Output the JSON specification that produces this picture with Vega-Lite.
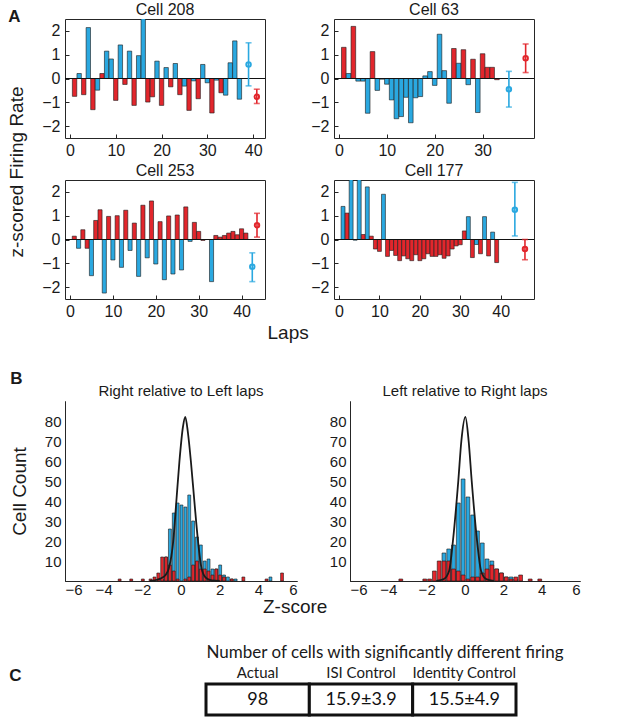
{
  "$schema": "https://vega.github.io/schema/vega-lite/v6.json",
  "background": "white",
  "padding": {"left": 8, "top": 1, "right": 4, "bottom": 4},
  "config": {
    "font": "Liberation Sans, Arial, sans-serif",
    "view": {"stroke": "#262626", "strokeWidth": 1},
    "axis": {"grid": false, "labelColor": "#1a1a1a", "tickColor": "#262626", "domainColor": "#262626", "labelFontSize": 16, "titleFontWeight": "normal", "titleColor": "#1a1a1a", "labelFont": "Liberation Sans, Arial, sans-serif", "titleFont": "Liberation Sans, Arial, sans-serif", "labelOverlap": false},
    "title": {"fontWeight": "normal", "color": "#1a1a1a", "font": "Liberation Sans, Arial, sans-serif"}
  },
  "datasets": {
    "laps": [
      {"cell":"Cell 208","lap":1,"type":"Right","z":-0.75},{"cell":"Cell 208","lap":2,"type":"Left","z":0.21},{"cell":"Cell 208","lap":3,"type":"Right","z":-0.68},{"cell":"Cell 208","lap":4,"type":"Left","z":2.14},{"cell":"Cell 208","lap":5,"type":"Right","z":-1.31},{"cell":"Cell 208","lap":6,"type":"Left","z":-0.49},{"cell":"Cell 208","lap":7,"type":"Right","z":0.21},{"cell":"Cell 208","lap":8,"type":"Left","z":1.15},{"cell":"Cell 208","lap":9,"type":"Left","z":0.82},{"cell":"Cell 208","lap":10,"type":"Right","z":-0.92},{"cell":"Cell 208","lap":11,"type":"Left","z":1.41},{"cell":"Cell 208","lap":12,"type":"Right","z":-0.25},{"cell":"Cell 208","lap":13,"type":"Left","z":1.15},{"cell":"Cell 208","lap":14,"type":"Right","z":-1.13},{"cell":"Cell 208","lap":15,"type":"Left","z":0.96},{"cell":"Cell 208","lap":16,"type":"Left","z":2.6},{"cell":"Cell 208","lap":17,"type":"Right","z":-0.99},{"cell":"Cell 208","lap":18,"type":"Right","z":-0.77},{"cell":"Cell 208","lap":19,"type":"Left","z":0.73},{"cell":"Cell 208","lap":20,"type":"Right","z":-1.13},{"cell":"Cell 208","lap":21,"type":"Left","z":0.46},{"cell":"Cell 208","lap":22,"type":"Right","z":-0.35},{"cell":"Cell 208","lap":23,"type":"Left","z":0.63},{"cell":"Cell 208","lap":24,"type":"Right","z":-0.68},{"cell":"Cell 208","lap":25,"type":"Left","z":-0.32},{"cell":"Cell 208","lap":26,"type":"Right","z":-1.34},{"cell":"Cell 208","lap":27,"type":"Left","z":-0.1},{"cell":"Cell 208","lap":28,"type":"Right","z":-0.85},{"cell":"Cell 208","lap":29,"type":"Left","z":0.59},{"cell":"Cell 208","lap":30,"type":"Left","z":-0.18},{"cell":"Cell 208","lap":31,"type":"Right","z":-1.45},{"cell":"Cell 208","lap":32,"type":"Left","z":-0.07},{"cell":"Cell 208","lap":33,"type":"Right","z":-0.6},{"cell":"Cell 208","lap":34,"type":"Left","z":-0.7},{"cell":"Cell 208","lap":35,"type":"Left","z":0.66},{"cell":"Cell 208","lap":36,"type":"Left","z":1.58},{"cell":"Cell 208","lap":37,"type":"Left","z":-0.87},
      {"cell":"Cell 63","lap":1,"type":"Right","z":1.31},{"cell":"Cell 63","lap":2,"type":"Left","z":0.21},{"cell":"Cell 63","lap":3,"type":"Right","z":2.19},{"cell":"Cell 63","lap":4,"type":"Left","z":-0.11},{"cell":"Cell 63","lap":5,"type":"Left","z":-0.11},{"cell":"Cell 63","lap":6,"type":"Left","z":-1.46},{"cell":"Cell 63","lap":7,"type":"Right","z":1.13},{"cell":"Cell 63","lap":8,"type":"Left","z":-0.5},{"cell":"Cell 63","lap":9,"type":"Left","z":-0.03},{"cell":"Cell 63","lap":10,"type":"Left","z":-0.24},{"cell":"Cell 63","lap":11,"type":"Left","z":-0.9},{"cell":"Cell 63","lap":12,"type":"Left","z":-1.69},{"cell":"Cell 63","lap":13,"type":"Left","z":-1.6},{"cell":"Cell 63","lap":14,"type":"Left","z":-0.79},{"cell":"Cell 63","lap":15,"type":"Left","z":-1.86},{"cell":"Cell 63","lap":16,"type":"Left","z":-0.81},{"cell":"Cell 63","lap":17,"type":"Left","z":-0.76},{"cell":"Cell 63","lap":18,"type":"Left","z":0.11},{"cell":"Cell 63","lap":19,"type":"Left","z":0.29},{"cell":"Cell 63","lap":20,"type":"Left","z":-0.29},{"cell":"Cell 63","lap":21,"type":"Left","z":1.86},{"cell":"Cell 63","lap":22,"type":"Left","z":0.33},{"cell":"Cell 63","lap":23,"type":"Left","z":-1.04},{"cell":"Cell 63","lap":24,"type":"Right","z":1.26},{"cell":"Cell 63","lap":25,"type":"Left","z":0.64},{"cell":"Cell 63","lap":26,"type":"Right","z":1.21},{"cell":"Cell 63","lap":27,"type":"Left","z":-0.26},{"cell":"Cell 63","lap":28,"type":"Right","z":0.81},{"cell":"Cell 63","lap":29,"type":"Left","z":-1.43},{"cell":"Cell 63","lap":30,"type":"Right","z":1.04},{"cell":"Cell 63","lap":31,"type":"Right","z":0.47},{"cell":"Cell 63","lap":32,"type":"Right","z":0.47},{"cell":"Cell 63","lap":33,"type":"Right","z":-0.05},
      {"cell":"Cell 253","lap":1,"type":"Right","z":0.14},{"cell":"Cell 253","lap":2,"type":"Left","z":-0.37},{"cell":"Cell 253","lap":3,"type":"Right","z":0.41},{"cell":"Cell 253","lap":4,"type":"Right","z":-0.37},{"cell":"Cell 253","lap":5,"type":"Left","z":-1.52},{"cell":"Cell 253","lap":6,"type":"Right","z":0.8},{"cell":"Cell 253","lap":7,"type":"Right","z":1.25},{"cell":"Cell 253","lap":8,"type":"Left","z":-2.25},{"cell":"Cell 253","lap":9,"type":"Right","z":0.97},{"cell":"Cell 253","lap":10,"type":"Left","z":-0.86},{"cell":"Cell 253","lap":11,"type":"Right","z":1.0},{"cell":"Cell 253","lap":12,"type":"Left","z":-1.17},{"cell":"Cell 253","lap":13,"type":"Right","z":1.23},{"cell":"Cell 253","lap":14,"type":"Left","z":-0.46},{"cell":"Cell 253","lap":15,"type":"Right","z":0.69},{"cell":"Cell 253","lap":16,"type":"Left","z":-1.55},{"cell":"Cell 253","lap":17,"type":"Right","z":1.44},{"cell":"Cell 253","lap":18,"type":"Left","z":-0.77},{"cell":"Cell 253","lap":19,"type":"Right","z":1.62},{"cell":"Cell 253","lap":20,"type":"Left","z":-1.03},{"cell":"Cell 253","lap":21,"type":"Right","z":0.75},{"cell":"Cell 253","lap":22,"type":"Left","z":-1.69},{"cell":"Cell 253","lap":23,"type":"Right","z":0.99},{"cell":"Cell 253","lap":24,"type":"Left","z":-1.45},{"cell":"Cell 253","lap":25,"type":"Right","z":1.03},{"cell":"Cell 253","lap":26,"type":"Left","z":-1.28},{"cell":"Cell 253","lap":27,"type":"Right","z":1.37},{"cell":"Cell 253","lap":28,"type":"Left","z":-0.08},{"cell":"Cell 253","lap":29,"type":"Right","z":0.72},{"cell":"Cell 253","lap":30,"type":"Right","z":0.34},{"cell":"Cell 253","lap":31,"type":"Right","z":-0.04},{"cell":"Cell 253","lap":33,"type":"Left","z":-1.77},{"cell":"Cell 253","lap":34,"type":"Right","z":0.17},{"cell":"Cell 253","lap":35,"type":"Right","z":0.1},{"cell":"Cell 253","lap":36,"type":"Right","z":0.17},{"cell":"Cell 253","lap":37,"type":"Right","z":0.27},{"cell":"Cell 253","lap":38,"type":"Right","z":0.34},{"cell":"Cell 253","lap":39,"type":"Right","z":0.2},{"cell":"Cell 253","lap":40,"type":"Right","z":0.45},{"cell":"Cell 253","lap":41,"type":"Right","z":0.27},
      {"cell":"Cell 177","lap":1,"type":"Left","z":1.39},{"cell":"Cell 177","lap":2,"type":"Right","z":1.11},{"cell":"Cell 177","lap":3,"type":"Left","z":2.6},{"cell":"Cell 177","lap":4,"type":"Left","z":-0.03},{"cell":"Cell 177","lap":5,"type":"Left","z":2.6},{"cell":"Cell 177","lap":6,"type":"Right","z":0.21},{"cell":"Cell 177","lap":7,"type":"Left","z":2.21},{"cell":"Cell 177","lap":8,"type":"Right","z":0.14},{"cell":"Cell 177","lap":9,"type":"Right","z":-0.4},{"cell":"Cell 177","lap":10,"type":"Right","z":-0.5},{"cell":"Cell 177","lap":11,"type":"Left","z":1.9},{"cell":"Cell 177","lap":12,"type":"Right","z":-0.71},{"cell":"Cell 177","lap":13,"type":"Right","z":-0.46},{"cell":"Cell 177","lap":14,"type":"Right","z":-0.67},{"cell":"Cell 177","lap":15,"type":"Right","z":-0.89},{"cell":"Cell 177","lap":16,"type":"Right","z":-0.69},{"cell":"Cell 177","lap":17,"type":"Right","z":-0.81},{"cell":"Cell 177","lap":18,"type":"Right","z":-0.89},{"cell":"Cell 177","lap":19,"type":"Right","z":-0.64},{"cell":"Cell 177","lap":20,"type":"Right","z":-0.89},{"cell":"Cell 177","lap":21,"type":"Right","z":-0.81},{"cell":"Cell 177","lap":22,"type":"Right","z":-0.6},{"cell":"Cell 177","lap":23,"type":"Right","z":-0.71},{"cell":"Cell 177","lap":24,"type":"Right","z":-0.71},{"cell":"Cell 177","lap":25,"type":"Right","z":-0.64},{"cell":"Cell 177","lap":26,"type":"Right","z":-0.79},{"cell":"Cell 177","lap":27,"type":"Right","z":-0.69},{"cell":"Cell 177","lap":28,"type":"Right","z":-0.4},{"cell":"Cell 177","lap":29,"type":"Right","z":-0.27},{"cell":"Cell 177","lap":30,"type":"Right","z":-0.22},{"cell":"Cell 177","lap":31,"type":"Right","z":0.36},{"cell":"Cell 177","lap":32,"type":"Left","z":0.96},{"cell":"Cell 177","lap":33,"type":"Right","z":-0.76},{"cell":"Cell 177","lap":34,"type":"Left","z":-0.21},{"cell":"Cell 177","lap":35,"type":"Right","z":-0.6},{"cell":"Cell 177","lap":36,"type":"Left","z":0.96},{"cell":"Cell 177","lap":37,"type":"Right","z":-0.69},{"cell":"Cell 177","lap":38,"type":"Left","z":0.31},{"cell":"Cell 177","lap":39,"type":"Right","z":-0.97}
    ],
    "err": [
      {"cell":"Cell 208","type":"Left","lap":39,"mean":0.59,"lo":-0.31,"hi":1.5},
      {"cell":"Cell 208","type":"Right","lap":40.8,"mean":-0.77,"lo":-1.05,"hi":-0.45},
      {"cell":"Cell 63","type":"Left","lap":35.5,"mean":-0.45,"lo":-1.2,"hi":0.3},
      {"cell":"Cell 63","type":"Right","lap":39,"mean":0.85,"lo":0.25,"hi":1.45},
      {"cell":"Cell 253","type":"Left","lap":42.5,"mean":-1.14,"lo":-1.77,"hi":-0.56},
      {"cell":"Cell 253","type":"Right","lap":43.6,"mean":0.6,"lo":0.1,"hi":1.1},
      {"cell":"Cell 177","type":"Left","lap":43.5,"mean":1.25,"lo":0.15,"hi":2.4},
      {"cell":"Cell 177","type":"Right","lap":46,"mean":-0.4,"lo":-0.85,"hi":0.0}
    ],
    "hist": [
      {"panel":"RL","type":"Left","z0":-1.1,"z1":-0.9,"count":1},{"panel":"RL","type":"Left","z0":-0.9,"z1":-0.7,"count":12},{"panel":"RL","type":"Left","z0":-0.7,"z1":-0.5,"count":26},{"panel":"RL","type":"Left","z0":-0.5,"z1":-0.3,"count":34},{"panel":"RL","type":"Left","z0":-0.3,"z1":-0.1,"count":39},{"panel":"RL","type":"Left","z0":-0.1,"z1":0.1,"count":38},{"panel":"RL","type":"Left","z0":0.1,"z1":0.3,"count":37},{"panel":"RL","type":"Left","z0":0.3,"z1":0.5,"count":43},{"panel":"RL","type":"Left","z0":0.5,"z1":0.7,"count":30},{"panel":"RL","type":"Left","z0":0.7,"z1":0.9,"count":22},{"panel":"RL","type":"Left","z0":0.9,"z1":1.1,"count":18},{"panel":"RL","type":"Left","z0":1.1,"z1":1.3,"count":10},{"panel":"RL","type":"Left","z0":1.3,"z1":1.5,"count":11},{"panel":"RL","type":"Left","z0":1.5,"z1":1.7,"count":6},{"panel":"RL","type":"Left","z0":1.7,"z1":1.9,"count":6},{"panel":"RL","type":"Left","z0":1.9,"z1":2.1,"count":8},{"panel":"RL","type":"Left","z0":2.1,"z1":2.3,"count":3},{"panel":"RL","type":"Left","z0":2.3,"z1":2.5,"count":2},{"panel":"RL","type":"Left","z0":2.5,"z1":2.7,"count":1},{"panel":"RL","type":"Left","z0":2.7,"z1":2.9,"count":1},{"panel":"RL","type":"Left","z0":4.5,"z1":4.7,"count":2},
      {"panel":"RL","type":"Right","z0":-3.3,"z1":-3.1,"count":1},{"panel":"RL","type":"Right","z0":-2.7,"z1":-2.5,"count":1},{"panel":"RL","type":"Right","z0":-2.1,"z1":-1.9,"count":1},{"panel":"RL","type":"Right","z0":-1.7,"z1":-1.5,"count":1},{"panel":"RL","type":"Right","z0":-1.5,"z1":-1.3,"count":2},{"panel":"RL","type":"Right","z0":-1.3,"z1":-1.1,"count":4},{"panel":"RL","type":"Right","z0":-1.1,"z1":-0.9,"count":12},{"panel":"RL","type":"Right","z0":-0.9,"z1":-0.7,"count":12},{"panel":"RL","type":"Right","z0":-0.7,"z1":-0.5,"count":8},{"panel":"RL","type":"Right","z0":-0.5,"z1":-0.3,"count":5},{"panel":"RL","type":"Right","z0":-0.3,"z1":-0.1,"count":1},{"panel":"RL","type":"Right","z0":0.1,"z1":0.3,"count":1},{"panel":"RL","type":"Right","z0":0.3,"z1":0.5,"count":2},{"panel":"RL","type":"Right","z0":0.5,"z1":0.7,"count":8},{"panel":"RL","type":"Right","z0":0.7,"z1":0.9,"count":10},{"panel":"RL","type":"Right","z0":0.9,"z1":1.1,"count":6},{"panel":"RL","type":"Right","z0":1.1,"z1":1.3,"count":6},{"panel":"RL","type":"Right","z0":1.3,"z1":1.5,"count":5},{"panel":"RL","type":"Right","z0":1.5,"z1":1.7,"count":3},{"panel":"RL","type":"Right","z0":1.7,"z1":1.9,"count":6},{"panel":"RL","type":"Right","z0":1.9,"z1":2.1,"count":3},{"panel":"RL","type":"Right","z0":2.1,"z1":2.3,"count":2},{"panel":"RL","type":"Right","z0":2.5,"z1":2.7,"count":1},{"panel":"RL","type":"Right","z0":3.1,"z1":3.3,"count":2},{"panel":"RL","type":"Right","z0":4.3,"z1":4.5,"count":1},{"panel":"RL","type":"Right","z0":5.1,"z1":5.3,"count":4},
      {"panel":"LR","type":"Left","z0":-1.25,"z1":-1.0,"count":14},{"panel":"LR","type":"Left","z0":-1.0,"z1":-0.75,"count":16},{"panel":"LR","type":"Left","z0":-0.75,"z1":-0.5,"count":18},{"panel":"LR","type":"Left","z0":-0.5,"z1":-0.25,"count":39},{"panel":"LR","type":"Left","z0":-0.25,"z1":0.0,"count":51},{"panel":"LR","type":"Left","z0":0.0,"z1":0.25,"count":42},{"panel":"LR","type":"Left","z0":0.25,"z1":0.5,"count":33},{"panel":"LR","type":"Left","z0":0.5,"z1":0.75,"count":25},{"panel":"LR","type":"Left","z0":0.75,"z1":1.0,"count":19},{"panel":"LR","type":"Left","z0":1.0,"z1":1.25,"count":11},{"panel":"LR","type":"Left","z0":1.25,"z1":1.5,"count":10},{"panel":"LR","type":"Left","z0":1.5,"z1":1.75,"count":6},{"panel":"LR","type":"Left","z0":1.75,"z1":2.0,"count":4},{"panel":"LR","type":"Left","z0":2.0,"z1":2.25,"count":2},{"panel":"LR","type":"Left","z0":2.25,"z1":2.5,"count":2},{"panel":"LR","type":"Left","z0":2.5,"z1":2.75,"count":1},
      {"panel":"LR","type":"Right","z0":-3.5,"z1":-3.25,"count":1},{"panel":"LR","type":"Right","z0":-2.25,"z1":-2.0,"count":1},{"panel":"LR","type":"Right","z0":-2.0,"z1":-1.75,"count":1},{"panel":"LR","type":"Right","z0":-1.75,"z1":-1.5,"count":5},{"panel":"LR","type":"Right","z0":-1.5,"z1":-1.25,"count":10},{"panel":"LR","type":"Right","z0":-1.25,"z1":-1.0,"count":10},{"panel":"LR","type":"Right","z0":-1.0,"z1":-0.75,"count":10},{"panel":"LR","type":"Right","z0":-0.75,"z1":-0.5,"count":6},{"panel":"LR","type":"Right","z0":-0.5,"z1":-0.25,"count":5},{"panel":"LR","type":"Right","z0":-0.25,"z1":0.0,"count":3},{"panel":"LR","type":"Right","z0":0.0,"z1":0.25,"count":1},{"panel":"LR","type":"Right","z0":0.25,"z1":0.5,"count":2},{"panel":"LR","type":"Right","z0":0.5,"z1":0.75,"count":2},{"panel":"LR","type":"Right","z0":0.75,"z1":1.0,"count":4},{"panel":"LR","type":"Right","z0":1.0,"z1":1.25,"count":6},{"panel":"LR","type":"Right","z0":1.25,"z1":1.5,"count":8},{"panel":"LR","type":"Right","z0":1.5,"z1":1.75,"count":6},{"panel":"LR","type":"Right","z0":1.75,"z1":2.0,"count":4},{"panel":"LR","type":"Right","z0":2.0,"z1":2.25,"count":2},{"panel":"LR","type":"Right","z0":2.25,"z1":2.5,"count":1},{"panel":"LR","type":"Right","z0":2.5,"z1":2.75,"count":2},{"panel":"LR","type":"Right","z0":2.75,"z1":3.0,"count":3},{"panel":"LR","type":"Right","z0":3.25,"z1":3.5,"count":1},{"panel":"LR","type":"Right","z0":3.75,"z1":4.0,"count":1}
    ],
    "curve": [
      {"panel":"RL","z":-1.6,"count":0},{"panel":"RL","z":-1.3,"count":0.5},{"panel":"RL","z":-1.0,"count":1.5},{"panel":"RL","z":-0.8,"count":3},{"panel":"RL","z":-0.64,"count":6},{"panel":"RL","z":-0.4,"count":20},{"panel":"RL","z":-0.24,"count":40},{"panel":"RL","z":-0.08,"count":60},{"panel":"RL","z":0.1,"count":77},{"panel":"RL","z":0.22,"count":82},{"panel":"RL","z":0.36,"count":74},{"panel":"RL","z":0.51,"count":60},{"panel":"RL","z":0.69,"count":40},{"panel":"RL","z":0.88,"count":20},{"panel":"RL","z":1.07,"count":6},{"panel":"RL","z":1.3,"count":1.5},{"panel":"RL","z":1.6,"count":0.3},{"panel":"RL","z":2.0,"count":0},
      {"panel":"LR","z":-1.5,"count":0},{"panel":"LR","z":-1.1,"count":1},{"panel":"LR","z":-0.83,"count":5},{"panel":"LR","z":-0.63,"count":20},{"panel":"LR","z":-0.35,"count":50},{"panel":"LR","z":-0.19,"count":70},{"panel":"LR","z":0.02,"count":82},{"panel":"LR","z":0.19,"count":70},{"panel":"LR","z":0.35,"count":50},{"panel":"LR","z":0.63,"count":20},{"panel":"LR","z":0.84,"count":5},{"panel":"LR","z":1.1,"count":1},{"panel":"LR","z":1.5,"count":0}
    ],
    "table": [
      {"row":"cells","column":"Actual","value":"98"},
      {"row":"cells","column":"ISI Control","value":"15.9±3.9"},
      {"row":"cells","column":"Identity Control","value":"15.5±4.9"}
    ]
  },
  "spacing": 27,
  "vconcat": [
    {
      "title": {"text": "A", "anchor": "start", "fontSize": 17, "fontWeight": "bold", "dy": 24, "offset": 0},
      "vconcat": [
        {
          "title": {"text": "z-scored Firing Rate", "orient": "left", "anchor": "middle", "fontSize": 19, "offset": 14},
          "vconcat": [
            {
              "title": {"text": "Laps", "orient": "bottom", "anchor": "middle", "fontSize": 19, "offset": 4},
              "spacing": 3,
              "vconcat": [
                {
                  "spacing": 44,
                  "hconcat": [
                    {
                      "width": 200, "height": 119,
                      "title": {"text": "Cell 208", "fontSize": 16, "offset": 1},
                      "resolve": {"axis": {"y": "independent"}},
                      "layer": [
                        {"data": {"name": "laps"}, "transform": [{"filter": "datum.cell == 'Cell 208'"}],
                         "mark": {"type": "bar", "width": 4.4, "stroke": "#1a1a1a", "strokeWidth": 0.6, "clip": true},
                         "encoding": {
                           "x": {"field": "lap", "type": "quantitative", "title": null, "scale": {"domain": [0, 41.5], "nice": false, "zero": false}, "axis": {"values": [0, 10, 20, 30, 40], "domain": false, "tickSize": 4, "offset": -4, "labelPadding": 4, "labelOverlap": false}},
                           "y": {"field": "z", "type": "quantitative", "title": null, "scale": {"domain": [-2.5, 2.5], "nice": false}, "axis": {"orient": "left", "values": [-2, 0, 2], "domain": false, "tickSize": 4, "offset": -4, "labelPadding": 5, "labelOverlap": false}},
                           "color": {"field": "type", "type": "nominal", "scale": {"domain": ["Left", "Right"], "range": ["#2AA8E0", "#E2262C"]}, "legend": null}
                         }},
                        {"data": {"values": [{}]}, "mark": {"type": "rule", "color": "#111", "strokeWidth": 1}, "encoding": {"y": {"datum": 0, "type": "quantitative", "title": null, "axis": {"orient": "left", "values": [-1, 1], "domain": false, "tickSize": 4, "offset": -4, "labelPadding": 5, "labelOverlap": false}}}},
                        {"data": {"name": "err"}, "transform": [{"filter": "datum.cell == 'Cell 208'"}],
                         "mark": {"type": "rule", "strokeWidth": 1.6},
                         "encoding": {"x": {"field": "lap", "type": "quantitative", "title": null}, "y": {"field": "lo", "type": "quantitative", "title": null, "axis": null}, "y2": {"field": "hi"}, "color": {"field": "type", "type": "nominal", "legend": null}}},
                        {"data": {"name": "err"}, "transform": [{"filter": "datum.cell == 'Cell 208'"}],
                         "mark": {"type": "tick", "orient": "horizontal", "size": 6, "thickness": 1.6},
                         "encoding": {"x": {"field": "lap", "type": "quantitative", "title": null}, "y": {"field": "lo", "type": "quantitative", "title": null, "axis": null}, "color": {"field": "type", "type": "nominal", "legend": null}}},
                        {"data": {"name": "err"}, "transform": [{"filter": "datum.cell == 'Cell 208'"}],
                         "mark": {"type": "tick", "orient": "horizontal", "size": 6, "thickness": 1.6},
                         "encoding": {"x": {"field": "lap", "type": "quantitative", "title": null}, "y": {"field": "hi", "type": "quantitative", "title": null, "axis": null}, "color": {"field": "type", "type": "nominal", "legend": null}}},
                        {"data": {"name": "err"}, "transform": [{"filter": "datum.cell == 'Cell 208'"}],
                         "mark": {"type": "point", "shape": "circle", "filled": false, "size": 20, "strokeWidth": 2, "opacity": 1},
                         "encoding": {"x": {"field": "lap", "type": "quantitative", "title": null}, "y": {"field": "mean", "type": "quantitative", "title": null, "axis": null}, "color": {"field": "type", "type": "nominal", "legend": null}}}
                      ]
                    },
                    {
                      "width": 200, "height": 119,
                      "title": {"text": "Cell 63", "fontSize": 16, "offset": 1},
                      "resolve": {"axis": {"y": "independent"}},
                      "layer": [
                        {"data": {"name": "laps"}, "transform": [{"filter": "datum.cell == 'Cell 63'"}],
                         "mark": {"type": "bar", "width": 4.6, "stroke": "#1a1a1a", "strokeWidth": 0.6, "clip": true},
                         "encoding": {
                           "x": {"field": "lap", "type": "quantitative", "title": null, "scale": {"domain": [0, 39.7], "nice": false, "zero": false}, "axis": {"values": [0, 10, 20, 30], "domain": false, "tickSize": 4, "offset": -4, "labelPadding": 4, "labelOverlap": false}},
                           "y": {"field": "z", "type": "quantitative", "title": null, "scale": {"domain": [-2.5, 2.5], "nice": false}, "axis": {"orient": "left", "values": [-2, 0, 2], "domain": false, "tickSize": 4, "offset": -4, "labelPadding": 5, "labelOverlap": false}},
                           "color": {"field": "type", "type": "nominal", "scale": {"domain": ["Left", "Right"], "range": ["#2AA8E0", "#E2262C"]}, "legend": null}
                         }},
                        {"data": {"values": [{}]}, "mark": {"type": "rule", "color": "#111", "strokeWidth": 1}, "encoding": {"y": {"datum": 0, "type": "quantitative", "title": null, "axis": {"orient": "left", "values": [-1, 1], "domain": false, "tickSize": 4, "offset": -4, "labelPadding": 5, "labelOverlap": false}}}},
                        {"data": {"name": "err"}, "transform": [{"filter": "datum.cell == 'Cell 63'"}],
                         "mark": {"type": "rule", "strokeWidth": 1.6},
                         "encoding": {"x": {"field": "lap", "type": "quantitative", "title": null}, "y": {"field": "lo", "type": "quantitative", "title": null, "axis": null}, "y2": {"field": "hi"}, "color": {"field": "type", "type": "nominal", "legend": null}}},
                        {"data": {"name": "err"}, "transform": [{"filter": "datum.cell == 'Cell 63'"}],
                         "mark": {"type": "tick", "orient": "horizontal", "size": 6, "thickness": 1.6},
                         "encoding": {"x": {"field": "lap", "type": "quantitative", "title": null}, "y": {"field": "lo", "type": "quantitative", "title": null, "axis": null}, "color": {"field": "type", "type": "nominal", "legend": null}}},
                        {"data": {"name": "err"}, "transform": [{"filter": "datum.cell == 'Cell 63'"}],
                         "mark": {"type": "tick", "orient": "horizontal", "size": 6, "thickness": 1.6},
                         "encoding": {"x": {"field": "lap", "type": "quantitative", "title": null}, "y": {"field": "hi", "type": "quantitative", "title": null, "axis": null}, "color": {"field": "type", "type": "nominal", "legend": null}}},
                        {"data": {"name": "err"}, "transform": [{"filter": "datum.cell == 'Cell 63'"}],
                         "mark": {"type": "point", "shape": "circle", "filled": false, "size": 20, "strokeWidth": 2, "opacity": 1},
                         "encoding": {"x": {"field": "lap", "type": "quantitative", "title": null}, "y": {"field": "mean", "type": "quantitative", "title": null, "axis": null}, "color": {"field": "type", "type": "nominal", "legend": null}}}
                      ]
                    }
                  ]
                },
                {
                  "spacing": 44,
                  "hconcat": [
                    {
                      "width": 200, "height": 119,
                      "title": {"text": "Cell 253", "fontSize": 16, "offset": 1},
                      "resolve": {"axis": {"y": "independent"}},
                      "layer": [
                        {"data": {"name": "laps"}, "transform": [{"filter": "datum.cell == 'Cell 253'"}],
                         "mark": {"type": "bar", "width": 4.1, "stroke": "#1a1a1a", "strokeWidth": 0.6, "clip": true},
                         "encoding": {
                           "x": {"field": "lap", "type": "quantitative", "title": null, "scale": {"domain": [0, 44.3], "nice": false, "zero": false}, "axis": {"values": [0, 10, 20, 30, 40], "domain": false, "tickSize": 4, "offset": -4, "labelPadding": 4, "labelOverlap": false}},
                           "y": {"field": "z", "type": "quantitative", "title": null, "scale": {"domain": [-2.5, 2.5], "nice": false}, "axis": {"orient": "left", "values": [-2, 0, 2], "domain": false, "tickSize": 4, "offset": -4, "labelPadding": 5, "labelOverlap": false}},
                           "color": {"field": "type", "type": "nominal", "scale": {"domain": ["Left", "Right"], "range": ["#2AA8E0", "#E2262C"]}, "legend": null}
                         }},
                        {"data": {"values": [{}]}, "mark": {"type": "rule", "color": "#111", "strokeWidth": 1}, "encoding": {"y": {"datum": 0, "type": "quantitative", "title": null, "axis": {"orient": "left", "values": [-1, 1], "domain": false, "tickSize": 4, "offset": -4, "labelPadding": 5, "labelOverlap": false}}}},
                        {"data": {"name": "err"}, "transform": [{"filter": "datum.cell == 'Cell 253'"}],
                         "mark": {"type": "rule", "strokeWidth": 1.6},
                         "encoding": {"x": {"field": "lap", "type": "quantitative", "title": null}, "y": {"field": "lo", "type": "quantitative", "title": null, "axis": null}, "y2": {"field": "hi"}, "color": {"field": "type", "type": "nominal", "legend": null}}},
                        {"data": {"name": "err"}, "transform": [{"filter": "datum.cell == 'Cell 253'"}],
                         "mark": {"type": "tick", "orient": "horizontal", "size": 6, "thickness": 1.6},
                         "encoding": {"x": {"field": "lap", "type": "quantitative", "title": null}, "y": {"field": "lo", "type": "quantitative", "title": null, "axis": null}, "color": {"field": "type", "type": "nominal", "legend": null}}},
                        {"data": {"name": "err"}, "transform": [{"filter": "datum.cell == 'Cell 253'"}],
                         "mark": {"type": "tick", "orient": "horizontal", "size": 6, "thickness": 1.6},
                         "encoding": {"x": {"field": "lap", "type": "quantitative", "title": null}, "y": {"field": "hi", "type": "quantitative", "title": null, "axis": null}, "color": {"field": "type", "type": "nominal", "legend": null}}},
                        {"data": {"name": "err"}, "transform": [{"filter": "datum.cell == 'Cell 253'"}],
                         "mark": {"type": "point", "shape": "circle", "filled": false, "size": 20, "strokeWidth": 2, "opacity": 1},
                         "encoding": {"x": {"field": "lap", "type": "quantitative", "title": null}, "y": {"field": "mean", "type": "quantitative", "title": null, "axis": null}, "color": {"field": "type", "type": "nominal", "legend": null}}}
                      ]
                    },
                    {
                      "width": 200, "height": 119,
                      "title": {"text": "Cell 177", "fontSize": 16, "offset": 1},
                      "resolve": {"axis": {"y": "independent"}},
                      "layer": [
                        {"data": {"name": "laps"}, "transform": [{"filter": "datum.cell == 'Cell 177'"}],
                         "mark": {"type": "bar", "width": 3.9, "stroke": "#1a1a1a", "strokeWidth": 0.6, "clip": true},
                         "encoding": {
                           "x": {"field": "lap", "type": "quantitative", "title": null, "scale": {"domain": [0, 47], "nice": false, "zero": false}, "axis": {"values": [0, 10, 20, 30, 40], "domain": false, "tickSize": 4, "offset": -4, "labelPadding": 4, "labelOverlap": false}},
                           "y": {"field": "z", "type": "quantitative", "title": null, "scale": {"domain": [-2.5, 2.5], "nice": false}, "axis": {"orient": "left", "values": [-2, 0, 2], "domain": false, "tickSize": 4, "offset": -4, "labelPadding": 5, "labelOverlap": false}},
                           "color": {"field": "type", "type": "nominal", "scale": {"domain": ["Left", "Right"], "range": ["#2AA8E0", "#E2262C"]}, "legend": null}
                         }},
                        {"data": {"values": [{}]}, "mark": {"type": "rule", "color": "#111", "strokeWidth": 1}, "encoding": {"y": {"datum": 0, "type": "quantitative", "title": null, "axis": {"orient": "left", "values": [-1, 1], "domain": false, "tickSize": 4, "offset": -4, "labelPadding": 5, "labelOverlap": false}}}},
                        {"data": {"name": "err"}, "transform": [{"filter": "datum.cell == 'Cell 177'"}],
                         "mark": {"type": "rule", "strokeWidth": 1.6},
                         "encoding": {"x": {"field": "lap", "type": "quantitative", "title": null}, "y": {"field": "lo", "type": "quantitative", "title": null, "axis": null}, "y2": {"field": "hi"}, "color": {"field": "type", "type": "nominal", "legend": null}}},
                        {"data": {"name": "err"}, "transform": [{"filter": "datum.cell == 'Cell 177'"}],
                         "mark": {"type": "tick", "orient": "horizontal", "size": 6, "thickness": 1.6},
                         "encoding": {"x": {"field": "lap", "type": "quantitative", "title": null}, "y": {"field": "lo", "type": "quantitative", "title": null, "axis": null}, "color": {"field": "type", "type": "nominal", "legend": null}}},
                        {"data": {"name": "err"}, "transform": [{"filter": "datum.cell == 'Cell 177'"}],
                         "mark": {"type": "tick", "orient": "horizontal", "size": 6, "thickness": 1.6},
                         "encoding": {"x": {"field": "lap", "type": "quantitative", "title": null}, "y": {"field": "hi", "type": "quantitative", "title": null, "axis": null}, "color": {"field": "type", "type": "nominal", "legend": null}}},
                        {"data": {"name": "err"}, "transform": [{"filter": "datum.cell == 'Cell 177'"}],
                         "mark": {"type": "point", "shape": "circle", "filled": false, "size": 20, "strokeWidth": 2, "opacity": 1},
                         "encoding": {"x": {"field": "lap", "type": "quantitative", "title": null}, "y": {"field": "mean", "type": "quantitative", "title": null, "axis": null}, "color": {"field": "type", "type": "nominal", "legend": null}}}
                      ]
                    }
                  ]
                }
              ]
            }
          ]
        }
      ]
    },
    {
      "spacing": 26,
      "vconcat": [
        {
          "title": {"text": "B", "anchor": "start", "fontSize": 17, "fontWeight": "bold", "offset": -4},
          "vconcat": [
            {
              "title": {"text": "Z-score", "orient": "bottom", "anchor": "middle", "fontSize": 19, "offset": 1},
              "spacing": 32,
              "hconcat": [
                {
                  "width": 232, "height": 180,
                  "view": {"stroke": null},
                  "title": {"text": "Right relative to Left laps", "fontSize": 15, "offset": 2},
                  "resolve": {"axis": {"x": "independent", "y": "independent"}},
                  "layer": [
                    {"data": {"name": "hist"}, "transform": [{"filter": "datum.panel == 'RL' && datum.type == 'Left'"}],
                     "mark": {"type": "bar", "stroke": "#1a1a1a", "strokeWidth": 0.6},
                     "encoding": {
                       "x": {"field": "z0", "type": "quantitative", "bin": "binned", "title": null, "scale": {"domain": [-6, 6], "nice": false}, "axis": {"orient": "bottom", "values": [-6, -2, 2, 6], "labelFontSize": 15, "ticks": false, "labelPadding": 1, "labelOverlap": false}},
                       "x2": {"field": "z1"},
                       "y": {"field": "count", "type": "quantitative", "title": "Cell Count", "scale": {"domain": [0, 90], "nice": false}, "axis": {"orient": "left", "values": [10, 30, 50, 70], "labelFontSize": 15, "ticks": false, "labelPadding": 4, "titleFontSize": 19, "titlePadding": 15, "labelOverlap": false}},
                       "color": {"value": "#2AA8E0"}
                     }},
                    {"data": {"name": "hist"}, "transform": [{"filter": "datum.panel == 'RL' && datum.type == 'Right'"}],
                     "mark": {"type": "bar", "stroke": "#1a1a1a", "strokeWidth": 0.6},
                     "encoding": {
                       "x": {"field": "z0", "type": "quantitative", "bin": "binned", "title": null, "axis": {"orient": "bottom", "values": [-4, 0, 4], "labelFontSize": 15, "ticks": false, "labelPadding": 1, "labelOverlap": false}},
                       "x2": {"field": "z1"},
                       "y": {"field": "count", "type": "quantitative", "title": null, "axis": {"orient": "left", "values": [20, 40, 60, 80], "labelFontSize": 15, "ticks": false, "labelPadding": 4, "labelOverlap": false}},
                       "color": {"value": "#E2262C"}
                     }},
                    {"data": {"name": "curve"}, "transform": [{"filter": "datum.panel == 'RL'"}],
                     "mark": {"type": "line", "color": "#1a1a1a", "strokeWidth": 1.8, "interpolate": "monotone"},
                     "encoding": {
                       "x": {"field": "z", "type": "quantitative", "title": null, "axis": null},
                       "y": {"field": "count", "type": "quantitative", "title": null, "axis": null}
                     }}
                  ]
                },
                {
                  "width": 230, "height": 180,
                  "view": {"stroke": null},
                  "title": {"text": "Left relative to Right laps", "fontSize": 15, "offset": 2},
                  "resolve": {"axis": {"x": "independent", "y": "independent"}},
                  "layer": [
                    {"data": {"name": "hist"}, "transform": [{"filter": "datum.panel == 'LR' && datum.type == 'Left'"}],
                     "mark": {"type": "bar", "stroke": "#1a1a1a", "strokeWidth": 0.6},
                     "encoding": {
                       "x": {"field": "z0", "type": "quantitative", "bin": "binned", "title": null, "scale": {"domain": [-6, 6], "nice": false}, "axis": {"orient": "bottom", "values": [-6, -2, 2, 6], "labelFontSize": 15, "ticks": false, "labelPadding": 1, "labelOverlap": false}},
                       "x2": {"field": "z1"},
                       "y": {"field": "count", "type": "quantitative", "title": null, "scale": {"domain": [0, 90], "nice": false}, "axis": {"orient": "left", "values": [10, 30, 50, 70], "labelFontSize": 15, "ticks": false, "labelPadding": 4, "labelOverlap": false}},
                       "color": {"value": "#2AA8E0"}
                     }},
                    {"data": {"name": "hist"}, "transform": [{"filter": "datum.panel == 'LR' && datum.type == 'Right'"}],
                     "mark": {"type": "bar", "stroke": "#1a1a1a", "strokeWidth": 0.6},
                     "encoding": {
                       "x": {"field": "z0", "type": "quantitative", "bin": "binned", "title": null, "axis": {"orient": "bottom", "values": [-4, 0, 4], "labelFontSize": 15, "ticks": false, "labelPadding": 1, "labelOverlap": false}},
                       "x2": {"field": "z1"},
                       "y": {"field": "count", "type": "quantitative", "title": null, "axis": {"orient": "left", "values": [20, 40, 60, 80], "labelFontSize": 15, "ticks": false, "labelPadding": 4, "labelOverlap": false}},
                       "color": {"value": "#E2262C"}
                     }},
                    {"data": {"name": "curve"}, "transform": [{"filter": "datum.panel == 'LR'"}],
                     "mark": {"type": "line", "color": "#1a1a1a", "strokeWidth": 1.8, "interpolate": "monotone"},
                     "encoding": {
                       "x": {"field": "z", "type": "quantitative", "title": null, "axis": null},
                       "y": {"field": "count", "type": "quantitative", "title": null, "axis": null}
                     }}
                  ]
                }
              ]
            }
          ]
        },
        {
          "width": 451, "height": 31,
          "view": {"stroke": null},
          "data": {"name": "table"},
          "layer": [
            {"mark": {"type": "rect", "fill": "white", "stroke": "#111", "strokeWidth": 3},
             "encoding": {
               "x": {"field": "column", "type": "nominal", "sort": null,
                     "scale": {"domain": ["Actual", "ISI Control", "Identity Control"], "paddingInner": 0, "paddingOuter": 0.6823, "align": 1},
                     "axis": {"orient": "top", "title": "Number of cells with significantly different firing", "titleFont": "Lato", "titleFontSize": 17, "titleFontWeight": "normal", "titleX": 141, "titleAlign": "left", "titlePadding": 4, "labelFont": "Lato", "labelFontSize": 15, "labelAngle": 0, "ticks": false, "domain": false, "labelPadding": 4}},
               "y": {"field": "row", "type": "nominal", "scale": {"paddingInner": 0, "paddingOuter": 0},
                     "axis": {"title": "C", "titleAngle": 0, "titleFontSize": 17, "titleFontWeight": "bold", "titlePadding": 44, "titleAnchor": "start", "titleBaseline": "bottom", "titleAlign": "right", "labels": false, "ticks": false, "domain": false}}
             }},
            {"mark": {"type": "text", "font": "Lato", "fontSize": 18, "color": "#111"},
             "encoding": {
               "x": {"field": "column", "type": "nominal", "sort": null},
               "y": {"field": "row", "type": "nominal"},
               "text": {"field": "value"}
             }}
          ]
        }
      ]
    }
  ]
}
